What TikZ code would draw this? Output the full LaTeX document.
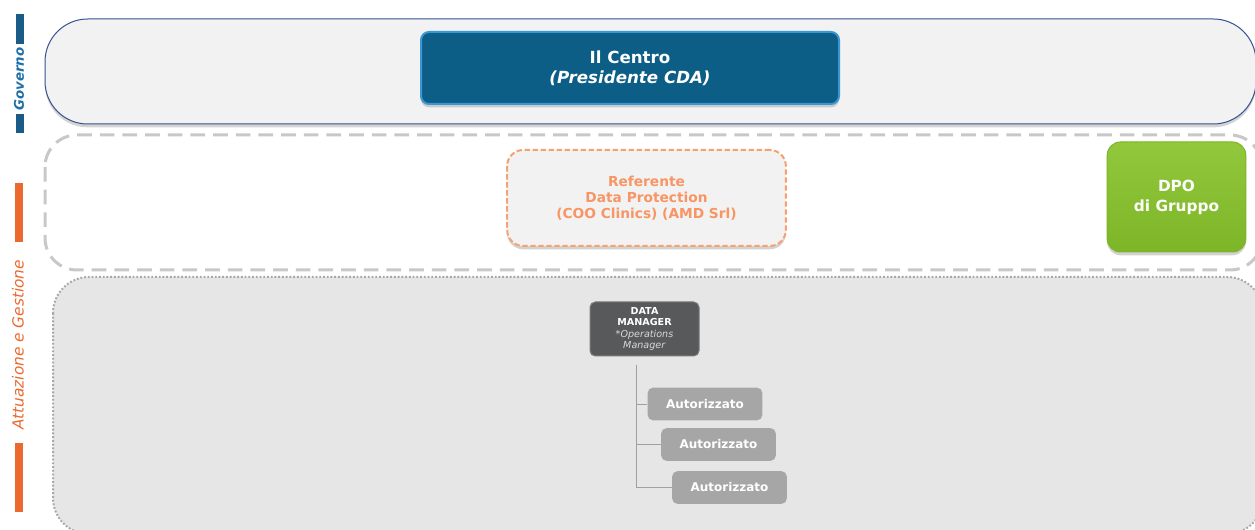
\documentclass[tikz,border=0pt]{standalone}
\usepackage{fontspec}
\setmainfont{DejaVu Sans}
\usetikzlibrary{shadows}

\definecolor{govblue}{RGB}{31,111,168}
\definecolor{blobblue}{RGB}{26,92,135}
\definecolor{attorange}{RGB}{235,104,46}
\definecolor{panelline}{RGB}{52,82,145}
\definecolor{panelfill}{RGB}{242,242,242}
\definecolor{dashgrey}{RGB}{200,200,200}
\definecolor{dotgrey}{RGB}{168,168,168}
\definecolor{lowfill}{RGB}{230,230,230}
\definecolor{centrefill}{RGB}{12,94,134}
\definecolor{centreedge}{RGB}{58,150,212}
\definecolor{refline}{RGB}{247,160,112}
\definecolor{reftext}{RGB}{247,150,100}
\definecolor{dpogreen}{RGB}{125,181,40}
\definecolor{dpolight}{RGB}{146,200,60}
\definecolor{dmfill}{RGB}{88,89,91}
\definecolor{authfill}{RGB}{166,166,166}
\definecolor{treegrey}{RGB}{160,160,160}

\tikzset{every picture/.style={line width=0.75pt}}
\tikzset{
  softshadow/.style={drop shadow={opacity=0.35, shadow xshift=0pt, shadow yshift=-2.5pt}},
  orgbox/.style={rounded corners=6pt, align=center, inner sep=0pt, text=white},
  centrebox/.style={orgbox, fill=centrefill, draw=centreedge, line width=1.5pt,
    minimum width=313.5pt, minimum height=54pt, softshadow,
    font=\fontsize{12.5}{15}\selectfont\bfseries},
  refbox/.style={orgbox, rounded corners=12pt, fill=panelfill, draw=refline, line width=1.5pt,
    dash pattern=on 4pt off 2pt, text=reftext, minimum width=209pt, minimum height=72pt,
    softshadow, font=\fontsize{10.3}{12}\selectfont\bfseries},
  dpobox/.style={orgbox, rounded corners=10pt, top color=dpolight, bottom color=dpogreen,
    draw=dpogreen, minimum width=104pt, minimum height=82.5pt, softshadow,
    font=\fontsize{11.5}{15}\selectfont\bfseries},
  dmbox/.style={orgbox, rounded corners=4pt, fill=dmfill, draw=dmfill!80!white,
    minimum width=81.75pt, minimum height=40.5pt, font=\fontsize{7.2}{8.6}\selectfont},
  authbox/.style={orgbox, rounded corners=4pt, fill=authfill, minimum width=86pt,
    minimum height=24.5pt, font=\fontsize{9}{11}\selectfont\bfseries},
  treeline/.style={draw=treegrey, line width=0.75pt},
}

\begin{document}
\begin{tikzpicture}[x=0.75pt,y=0.75pt,yscale=-1,xscale=1]
	\useasboundingbox (0,0) rectangle (1255,530);
	\clip (0,0) rectangle (1255,530);
	
	%Shape: Rounded Rect [Governo panel]
	\draw [draw=panelline, fill=panelfill, rounded corners=32pt, softshadow] (45,19) rectangle (1256,124);
	%Shape: Rounded Rect [dashed panel]
	\draw [draw=dashgrey, fill=white, line width=2.25pt, dash pattern=on 11pt off 6pt, rounded corners=24pt] (45,135) rectangle (1262,270);
	%Shape: Rounded Rect [dotted panel]
	\draw [draw=dotgrey, fill=lowfill, line width=1.5pt, dash pattern=on 1.4pt off 1.4pt, rounded corners=27pt] (53,277) rectangle (1263,534);
	
	%Shape: Blobs [left bands]
	\fill [blobblue] (16,14) rectangle (24,44);
	\fill [blobblue] (16,114) rectangle (24,133);
	\fill [attorange] (15,183) rectangle (23,242);
	\fill [attorange] (15,443) rectangle (23,512);
	
	% Text Node
	\node (governo) at (19,79) [rotate=90, text=govblue, font=\fontsize{10}{12}\selectfont\bfseries\itshape] {Governo};
	% Text Node
	\node (attuazione) at (18,345) [rotate=90, text=attorange, font=\fontsize{11.5}{13}\selectfont\itshape] {Attuazione e Gestione};
	
	% Text Node
	\node (centro) at (630,68) [centrebox] {Il Centro\\\textit{(Presidente CDA)}};
	% Text Node
	\node (referente) at (646.5,198) [refbox] {Referente\\Data Protection\\(COO Clinics) (AMD Srl)};
	% Text Node
	\node (dpo) at (1176.5,197) [dpobox] {DPO\\di Gruppo};
	% Text Node
	\node (dm) at (644.5,329) [dmbox] {\textbf{DATA}\\\textbf{MANAGER}\\\textcolor{white!85!black}{\textit{*Operations}}\\\textcolor{white!85!black}{\textit{Manager}}};
	% Text Node
	\node (aut1) at (705,404) [authbox] {Autorizzato};
	% Text Node
	\node (aut2) at (718.5,444.5) [authbox] {Autorizzato};
	% Text Node
	\node (aut3) at (729.5,487.5) [authbox] {Autorizzato};
	
	%Straight Lines [tree]
	\coordinate (trunk) at (636,365);
	\draw [treeline] (trunk) |- (aut3.west);
	\draw [treeline] (trunk) |- (aut2.west);
	\draw [treeline] (trunk) |- (aut1.west);
	
\end{tikzpicture}
\end{document}
